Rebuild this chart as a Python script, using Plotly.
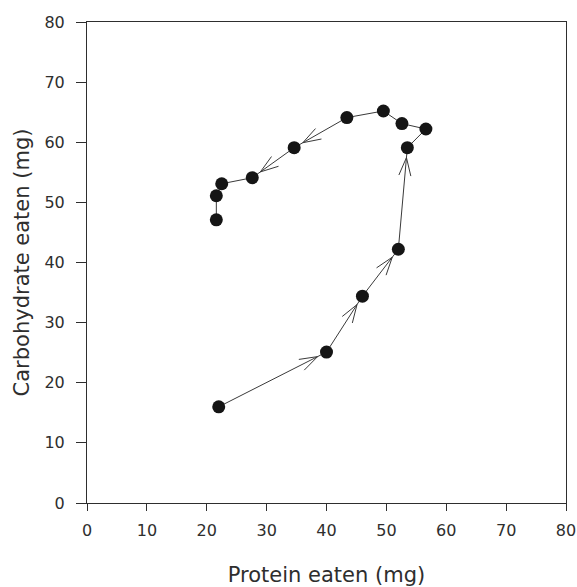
import math
import plotly.graph_objects as go

# ---- data ----
protein = [22.0, 40.0, 46.0, 52.0, 53.5, 56.6, 52.6, 49.5, 43.4, 34.6, 27.6, 22.5, 21.6, 21.6]
carbohydrate = [16.0, 25.1, 34.4, 42.2, 59.1, 62.2, 63.1, 65.2, 64.1, 59.1, 54.1, 53.1, 51.1, 47.1]
arrow_segments = [0, 1, 2, 3, 8, 9]   # index of segment start that carries an arrowhead
x_ticks = [0, 10, 20, 30, 40, 50, 60, 70, 80]
y_ticks = [0, 10, 20, 30, 40, 50, 60, 70, 80]

# ---- layout geometry ----
W, H = 577, 587
ML, MR, MT, MB = 87, 11, 22, 84
PW, PH = W - ML - MR, H - MT - MB
XR, YR = (0, 80), (0, 80)
sx = PW / (XR[1] - XR[0])
sy = PH / (YR[1] - YR[0])

INK = "#2e2e2e"
LINE = "#3a3a3a"
FONT = "DejaVu Sans, Liberation Sans, Arial, sans-serif"

# arrowhead barbs computed in pixel space from data points
GAP, LEN, HALF = 10.0, 18.0, 6.0
ax, ay = [], []
for i in arrow_segments:
    x0, y0 = protein[i] * sx, carbohydrate[i] * sy
    x1, y1 = protein[i + 1] * sx, carbohydrate[i + 1] * sy
    dx, dy = x1 - x0, y1 - y0
    d = math.hypot(dx, dy)
    ux, uy = dx / d, dy / d
    px_, py_ = -uy, ux
    tx, ty = x1 - ux * GAP, y1 - uy * GAP
    bx, by = tx - ux * LEN, ty - uy * LEN
    for s in (1, -1):
        ax += [(bx + s * px_ * HALF) / sx, tx / sx, None]
        ay += [(by + s * py_ * HALF) / sy, ty / sy, None]

fig = go.Figure()
fig.add_trace(go.Scatter(
    x=protein, y=carbohydrate, mode="lines",
    line=dict(color=LINE, width=1), hoverinfo="skip", showlegend=False))
fig.add_trace(go.Scatter(
    x=ax, y=ay, mode="lines",
    line=dict(color=LINE, width=1), hoverinfo="skip", showlegend=False))
fig.add_trace(go.Scatter(
    x=protein, y=carbohydrate, mode="markers",
    marker=dict(size=13, color="#151515", line=dict(width=0)),
    showlegend=False))

axis_common = dict(
    automargin=False,
    showgrid=False, zeroline=False, showline=True, linecolor=INK, linewidth=1,
    mirror=True, ticks="outside", tickcolor=INK, tickwidth=1,
    tickfont=dict(family=FONT, size=16, color=INK),
)
fig.update_layout(
    width=W, height=H,
    margin=dict(l=ML, r=MR, t=MT, b=MB),
    paper_bgcolor="white", plot_bgcolor="white",
    xaxis=dict(range=list(XR), tickvals=x_ticks, ticklen=7, ticklabelstandoff=6,
               title=dict(text="Protein eaten (mg)", font=dict(family=FONT, size=21, color=INK),
                          standoff=28),
               **axis_common),
    yaxis=dict(range=list(YR), tickvals=y_ticks, ticklen=10, ticklabelstandoff=8,
               title=dict(text="Carbohydrate eaten (mg)", font=dict(family=FONT, size=21, color=INK),
                          standoff=9),
               **axis_common),
)
fig.write_html("out.html", config={"displayModeBar": False},
               post_script="document.body.style.margin='0';")
